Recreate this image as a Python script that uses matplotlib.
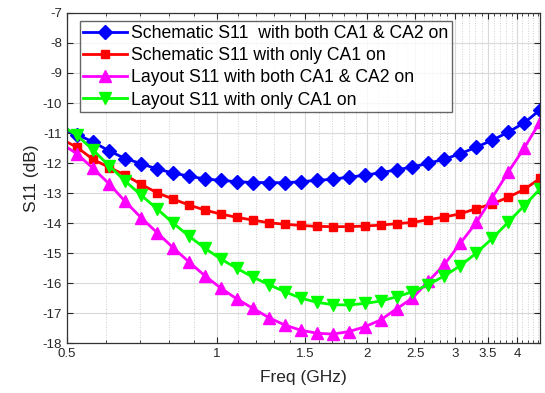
"""Recreate the S11 vs frequency comparison plot (schematic vs layout)."""
import numpy as np
import matplotlib
matplotlib.use("Agg")
import matplotlib.pyplot as plt
from matplotlib.ticker import FixedLocator, NullFormatter

# --- data ---
freq_ghz = [
    0.487, 0.524, 0.564, 0.608, 0.654, 0.704, 0.758, 0.816, 0.879, 0.946,
    1.018, 1.096, 1.180, 1.270, 1.368, 1.472, 1.585, 1.706, 1.837, 1.978,
    2.129, 2.292, 2.467, 2.656, 2.860, 3.079, 3.314, 3.568, 3.841, 4.135,
    4.451,
]
sch_both = [
    -10.85, -11.05, -11.30, -11.60, -11.85, -12.02, -12.20, -12.33, -12.44, -12.53,
    -12.58, -12.62, -12.65, -12.65, -12.66, -12.62, -12.58, -12.54, -12.47, -12.41,
    -12.32, -12.23, -12.13, -12.01, -11.87, -11.69, -11.47, -11.24, -10.97, -10.66,
    -10.23,
]
sch_ca1 = [
    -11.20, -11.48, -11.88, -12.15, -12.40, -12.71, -12.99, -13.20, -13.40, -13.57,
    -13.70, -13.81, -13.90, -13.99, -14.04, -14.08, -14.11, -14.12, -14.12, -14.10,
    -14.07, -14.02, -13.98, -13.89, -13.80, -13.69, -13.52, -13.36, -13.14, -12.88,
    -12.51,
]
lay_both = [
    -11.35, -11.70, -12.18, -12.70, -13.28, -13.82, -14.32, -14.82, -15.30, -15.76,
    -16.17, -16.53, -16.84, -17.15, -17.40, -17.57, -17.67, -17.70, -17.62, -17.46,
    -17.23, -16.86, -16.50, -15.94, -15.38, -14.67, -13.98, -13.15, -12.30, -11.50,
    -10.62,
]
lay_ca1 = [
    -10.75, -11.08, -11.57, -12.10, -12.60, -13.07, -13.53, -14.00, -14.44, -14.84,
    -15.20, -15.51, -15.80, -16.05, -16.29, -16.50, -16.64, -16.72, -16.73, -16.68,
    -16.60, -16.46, -16.29, -16.05, -15.76, -15.42, -15.00, -14.51, -13.97, -13.42,
    -12.86,
]
labels = [
    "Schematic S11  with both CA1 & CA2 on",
    "Schematic S11 with only CA1 on",
    "Layout S11 with both CA1 & CA2 on",
    "Layout S11 with only CA1 on",
]
x_major = [0.5, 1, 1.5, 2, 2.5, 3, 3.5, 4]
x_tick_labels = ["0.5", "1", "1.5", "2", "2.5", "3", "3.5", "4"]
y_ticks = list(range(-18, -6))

plt.rcParams["font.family"] = ["Liberation Sans", "DejaVu Sans"]
plt.rcParams["axes.unicode_minus"] = False

fig = plt.figure(figsize=(5.45, 3.93), dpi=100)
ax = fig.add_axes([0.123, 0.127, 0.868, 0.840])

series = [
    (sch_both, "#0000ff", "D", 7),
    (sch_ca1, "#ff0000", "s", 6),
    (lay_both, "#ff00ff", "^", 8),
    (lay_ca1, "#00ff00", "v", 8),
]
for (vals, color, marker, ms), lab in zip(series, labels):
    ax.plot(freq_ghz, vals, color=color, lw=2, marker=marker, ms=ms,
            markerfacecolor=color, markeredgecolor=color, label=lab)

ax.set_xscale("log")
ax.set_xlim(0.5, 4.45)
ax.set_ylim(-18, -7)

ax.xaxis.set_major_locator(FixedLocator(x_major))
ax.set_xticklabels(x_tick_labels)
minor = [round(v, 1) for v in np.arange(0.6, 4.45, 0.1)]
minor = [v for v in minor if v not in x_major]
ax.xaxis.set_minor_locator(FixedLocator(minor))
ax.xaxis.set_minor_formatter(NullFormatter())
ax.set_yticks(y_ticks)

ax.tick_params(which="both", direction="in", top=True, right=True,
               labelsize=9.5, colors="#262626")
ax.tick_params(which="major", length=4)
ax.tick_params(which="minor", length=2)

ax.grid(True, which="major", color="#d9d9d9", lw=0.8)
ax.grid(True, which="minor", axis="x", color="#d0d0d0", lw=0.7, ls=":")
ax.set_axisbelow(True)
for sp in ax.spines.values():
    sp.set_color("#333333")
    sp.set_linewidth(0.9)

ax.set_xlabel("Freq (GHz)", fontsize=12.5, color="#262626", labelpad=7)
ax.set_ylabel("S11 (dB)", fontsize=12.5, color="#262626", labelpad=3)

leg = ax.legend(loc="upper left", bbox_to_anchor=(0.027, 0.975), fontsize=12.7,
                frameon=True, fancybox=False, edgecolor="#404040",
                handlelength=2.5, handletextpad=0.2, labelspacing=0.3,
                borderpad=0.2, borderaxespad=0.0)
leg.get_frame().set_linewidth(1.0)

fig.savefig("out.png", dpi=100)
plt.close(fig)
